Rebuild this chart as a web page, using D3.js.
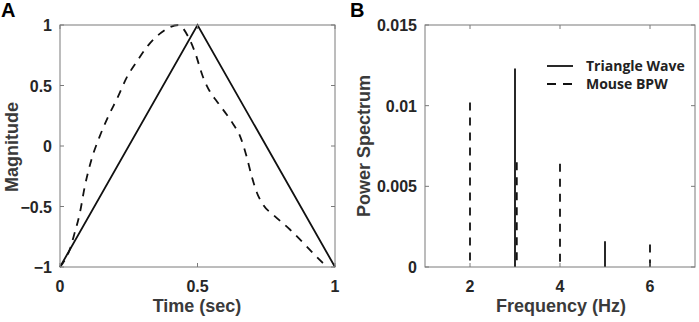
<!DOCTYPE html>
<html>
<head>
<meta charset="utf-8">
<script src="https://cdn.jsdelivr.net/npm/d3@7"></script>
<style>
  body { margin: 0; background: #fff; }
  svg { display: block; font-family: "Liberation Sans", Arial, sans-serif; font-weight: bold; }
  .tick-label { font-size: 16px; fill: #262626; }
  .axis-title { font-size: 18px; fill: #3a3a3a; }
  .panel-label { font-size: 20px; fill: #000; }
  .legend text { font-family: "Open Sans", sans-serif; font-size: 14px; fill: #222; }
</style>
</head>
<body>
<svg id="chart" width="699" height="322"></svg>
<script>
// panel A: triangle wave vs mouse BPW (one period)
var triangleTime = [0, 0.5, 1];
var triangleMag = [-1, 1, -1];
var mouseTime = [0, 0.018, 0.035, 0.053, 0.072, 0.09, 0.114, 0.144, 0.175, 0.211, 0.241, 0.28, 0.32, 0.37, 0.43,
  0.467, 0.49, 0.52, 0.545, 0.57, 0.606, 0.63, 0.655, 0.679, 0.697, 0.715, 0.74, 0.776, 0.836, 0.897, 0.958, 0.975];
var mouseMag = [-1, -0.94, -0.86, -0.72, -0.556, -0.336, -0.116, 0.077, 0.242, 0.408, 0.559, 0.70, 0.83, 0.94, 1.0,
  0.9, 0.78, 0.57, 0.45, 0.37, 0.26, 0.18, 0.08, -0.09, -0.25, -0.38, -0.49, -0.57, -0.69, -0.83, -0.97, -1.0];
var timeTicks = [0, 0.5, 1];
var magTicks = [-1, -0.5, 0, 0.5, 1];

// panel B: power spectrum stems
var triangleFreq = [3, 5];
var trianglePower = [0.0123, 0.0016];
var mouseFreq = [2, 3.04, 4, 6];
var mousePower = [0.0102, 0.0065, 0.0064, 0.0014];
var freqTicks = [2, 4, 6];
var powerTicks = [0, 0.005, 0.01, 0.015];
var legendLabels = ['Triangle Wave', 'Mouse BPW'];

var svg = d3.select('#chart');
var axisColor = '#7a7a7a';
var dash = '8,7';

function drawFrame(g, x, y, xTicks, yTicks, xFmt, yFmt) {
  var x0 = x.range()[0], x1 = x.range()[1];
  var y0 = y.range()[0], y1 = y.range()[1];
  // box
  g.append('rect')
    .attr('x', x0).attr('y', y1)
    .attr('width', x1 - x0).attr('height', y0 - y1)
    .attr('fill', 'none').attr('stroke', axisColor).attr('stroke-width', 1);
  // inward ticks on all four sides
  xTicks.forEach(function(t) {
    g.append('line').attr('x1', x(t)).attr('x2', x(t)).attr('y1', y0).attr('y2', y0 - 4).attr('stroke', axisColor);
    g.append('line').attr('x1', x(t)).attr('x2', x(t)).attr('y1', y1).attr('y2', y1 + 4).attr('stroke', axisColor);
  });
  yTicks.forEach(function(t) {
    g.append('line').attr('x1', x0).attr('x2', x0 + 4).attr('y1', y(t)).attr('y2', y(t)).attr('stroke', axisColor);
    g.append('line').attr('x1', x1).attr('x2', x1 - 4).attr('y1', y(t)).attr('y2', y(t)).attr('stroke', axisColor);
  });
  g.selectAll('text.xt').data(xTicks).enter().append('text')
    .attr('class', 'tick-label xt')
    .attr('x', function(d) { return x(d); })
    .attr('y', y0 + 25)
    .attr('text-anchor', 'middle')
    .text(xFmt);
  g.selectAll('text.yt').data(yTicks).enter().append('text')
    .attr('class', 'tick-label yt')
    .attr('x', x0 - 8)
    .attr('y', function(d) { return y(d) + 6; })
    .attr('text-anchor', 'end')
    .text(yFmt);
}

// ---- panel A ----
var gA = svg.append('g');
var xA = d3.scaleLinear().domain([0, 1]).range([60, 335]);
var yA = d3.scaleLinear().domain([-1, 1]).range([267, 25]);
var lineA = d3.line()
  .x(function(d) { return xA(d[0]); })
  .y(function(d) { return yA(d[1]); });

gA.append('path')
  .datum(d3.zip(mouseTime, mouseMag))
  .attr('d', lineA.curve(d3.curveMonotoneX))
  .attr('fill', 'none').attr('stroke', '#111').attr('stroke-width', 1.8)
  .attr('stroke-dasharray', dash);
gA.append('path')
  .datum(d3.zip(triangleTime, triangleMag))
  .attr('d', lineA.curve(d3.curveLinear))
  .attr('fill', 'none').attr('stroke', '#111').attr('stroke-width', 1.8);

drawFrame(gA, xA, yA, timeTicks, magTicks, d3.format(''), d3.format(''));

gA.append('text').attr('class', 'axis-title')
  .attr('x', 197).attr('y', 312).attr('text-anchor', 'middle').text('Time (sec)');
gA.append('text').attr('class', 'axis-title')
  .attr('transform', 'translate(18,147) rotate(-90)').attr('text-anchor', 'middle').text('Magnitude');
gA.append('text').attr('class', 'panel-label').attr('x', 1).attr('y', 17).text('A');

// ---- panel B ----
var gB = svg.append('g');
var xB = d3.scaleLinear().domain([1, 7]).range([425, 695]);
var yB = d3.scaleLinear().domain([0, 0.015]).range([267, 25]);

// stems drawn top-down so the dash pattern starts at the tip
gB.selectAll('line.mouse').data(d3.zip(mouseFreq, mousePower)).enter().append('line')
  .attr('class', 'mouse')
  .attr('x1', function(d) { return xB(d[0]); })
  .attr('x2', function(d) { return xB(d[0]); })
  .attr('y1', function(d) { return yB(d[1]); })
  .attr('y2', yB(0))
  .attr('stroke', '#111').attr('stroke-width', 1.8)
  .attr('stroke-dasharray', dash);
gB.selectAll('line.tri').data(d3.zip(triangleFreq, trianglePower)).enter().append('line')
  .attr('class', 'tri')
  .attr('x1', function(d) { return xB(d[0]); })
  .attr('x2', function(d) { return xB(d[0]); })
  .attr('y1', function(d) { return yB(d[1]); })
  .attr('y2', yB(0))
  .attr('stroke', '#111').attr('stroke-width', 1.8);

drawFrame(gB, xB, yB, freqTicks, powerTicks, d3.format(''), function(d) { return d === 0 ? '0' : String(d); });

gB.append('text').attr('class', 'axis-title')
  .attr('x', 561).attr('y', 312).attr('text-anchor', 'middle').text('Frequency (Hz)');
gB.append('text').attr('class', 'axis-title')
  .attr('transform', 'translate(370,146) rotate(-90)').attr('text-anchor', 'middle').text('Power Spectrum');
gB.append('text').attr('class', 'panel-label').attr('x', 350).attr('y', 17).text('B');

// legend
var legend = gB.append('g').attr('class', 'legend');
legend.selectAll('g').data(legendLabels).enter().append('g')
  .each(function(d, i) {
    var row = d3.select(this);
    var ly = 66 + i * 18;
    row.append('line')
      .attr('x1', 547).attr('x2', 573).attr('y1', ly).attr('y2', ly)
      .attr('stroke', '#111').attr('stroke-width', 1.8)
      .attr('stroke-dasharray', i === 0 ? null : '9,7');
    row.append('text').attr('x', 586).attr('y', ly + 5).text(d);
  });
</script>
</body>
</html>
